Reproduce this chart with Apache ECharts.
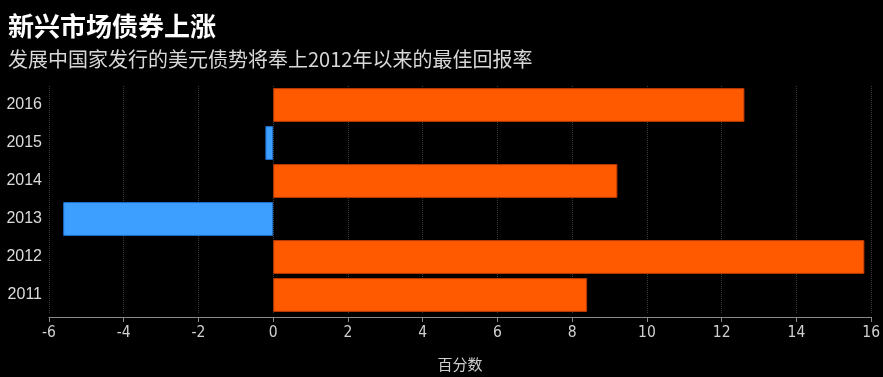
<!DOCTYPE html>
<html><head><meta charset="utf-8">
<script src="https://cdn.jsdelivr.net/npm/echarts@6/dist/echarts.min.js"></script>
<style>html,body{margin:0;padding:0;background:#000;}#c{width:883px;height:377px;}</style>
</head><body><div id="c"></div>
<script>
const categories = ['2011','2012','2013','2014','2015','2016'];
const values = [8.4, 15.82, -5.62, 9.21, -0.21, 12.61];
const xTicks = {min: -6, max: 16, interval: 2};
const titleText = '新兴市场债券上涨';
const subtitleText = '发展中国家发行的美元债势将奉上2012年以来的最佳回报率';
const axisName = '百分数';

const chart = echarts.init(document.getElementById('c'), null, {renderer: 'canvas'});
chart.setOption({
  backgroundColor: '#000',
  animation: false,
  title: {
    text: titleText, subtext: subtitleText, left: 3, top: 8, itemGap: 10,
    textStyle: {color: '#fff', fontSize: 26, fontWeight: 'bold', fontFamily: 'Noto Sans CJK SC'},
    subtextStyle: {color: '#d8d8d8', fontSize: 20, fontFamily: 'Noto Sans CJK SC'}
  },
  grid: {left: 49, right: 11.5, top: 86, bottom: 62, containLabel: false},
  xAxis: {
    type: 'value', min: xTicks.min, max: xTicks.max, interval: xTicks.interval,
    offset: 3,
    axisLine: {show: true, lineStyle: {color: '#8a8a8a', width: 1}},
    axisTick: {show: true, length: 5, lineStyle: {color: '#8a8a8a'}},
    axisLabel: {color: '#d0d0d0', fontSize: 15.5, fontFamily: 'DejaVu Sans Condensed', margin: 8},
    splitLine: {show: true, lineStyle: {color: '#3a3a3a', type: 'dotted', width: 1}},
    name: axisName, nameLocation: 'middle', nameGap: 40,
    nameTextStyle: {color: '#d0d0d0', fontSize: 15, fontFamily: 'Noto Sans CJK SC'}
  },
  yAxis: {
    type: 'category', data: categories,
    axisLine: {show: false}, axisTick: {show: false},
    axisLabel: {color: '#dcdcdc', fontSize: 16, fontFamily: 'Liberation Sans', margin: 7}
  },
  series: [{
    type: 'bar',
    barCategoryGap: '11%',
    data: values.map(v => ({
      value: v,
      itemStyle: v >= 0
        ? {color: '#FF5A00', borderColor: '#B83A00', borderWidth: 1}
        : {color: '#3D9FFF', borderColor: '#1E6FCC', borderWidth: 1}
    }))
  }]
});
</script></body></html>
